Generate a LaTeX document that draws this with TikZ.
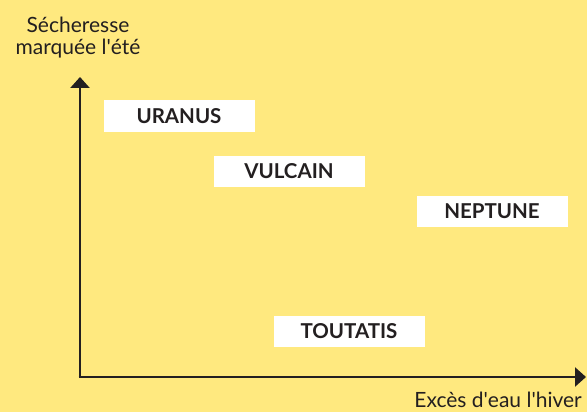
\documentclass[tikz,border=0pt]{standalone}
\usetikzlibrary{arrows.meta}
\usepackage{fontspec}
\setmainfont{Lato}
\definecolor{bg}{HTML}{FFE97F}
\definecolor{ink}{HTML}{231F20}
\begin{document}
\begin{tikzpicture}[x=1pt,y=-1pt,
  planet/.style={fill=white,minimum width=151pt,minimum height=31.5pt,inner sep=0pt,
    text height=14.5pt,text depth=0pt,
    font=\fontsize{20.5}{22}\selectfont\bfseries,text=ink},
  axislabel/.style={font=\fontsize{21}{22}\selectfont,text=ink,inner sep=0pt},
  axis/.style={draw=ink,line width=2.6pt,-{Triangle[length=11pt,width=19pt]}}]
\useasboundingbox[fill=bg] (0,0) rectangle (587,412);
\node[planet] (uranus) at (179,116) {URANUS};
\node[planet] (vulcain) at (289,171.5) {VULCAIN};
\node[planet] (neptune) at (492,211.5) {NEPTUNE};
\node[planet] (toutatis) at (349,331.5) {TOUTATIS};
\coordinate (origin) at (80,377);
\coordinate (ytip) at (80,77);
\coordinate (xtip) at (586,377);
\draw[axis] ([yshift=1.3pt]origin) -- (ytip);
\draw[axis] ([xshift=-1.3pt]origin) -- (xtip);
\node[axislabel,align=center,anchor=base] (ylabel) at (78,55) {Sécheresse\\marquée l\textquotesingle été};
\node[axislabel,anchor=base east] (xlabel) at (582,407) {Excès d\textquotesingle eau l\textquotesingle hiver};
\end{tikzpicture}
\end{document}
